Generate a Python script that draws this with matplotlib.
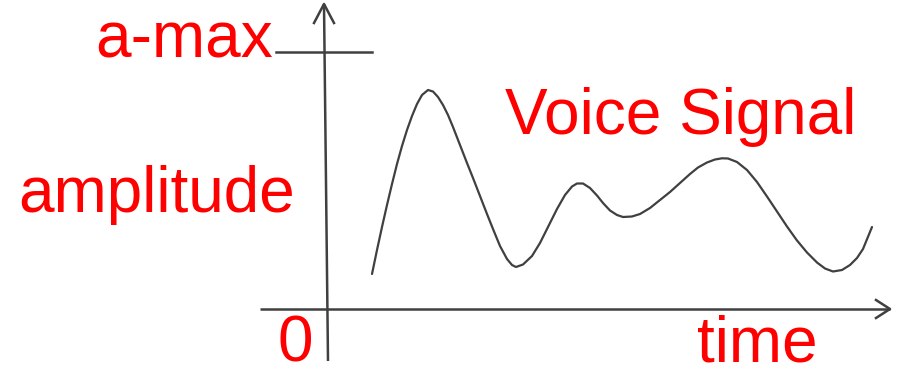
import matplotlib
matplotlib.use("Agg")
import matplotlib.pyplot as plt

# sketched voice waveform, time vs amplitude (origin at the axis crossing)
time = [44, 49, 54, 59, 64, 69, 74, 79, 84, 89, 94, 100, 105, 110, 115, 120,
        125, 132, 139, 145, 152, 159, 165, 172, 179, 184, 188, 195, 204, 212,
        220, 229, 237, 244, 249, 255, 262, 269, 275, 282, 289, 295, 304, 312,
        322, 332, 342, 352, 362, 370, 379, 387, 394, 400, 409, 419, 429, 439,
        449, 459, 469, 479, 489, 497, 505, 514, 522, 529, 535, 544]
amplitude = [35, 59, 82, 104, 125, 145, 163, 179, 193, 205, 214, 219, 217.5,
             212, 204, 194, 182, 164, 146, 131, 113, 95, 80, 63, 50, 44, 42,
             44.5, 53, 66, 82, 100, 114, 122.5, 125.5, 125.5, 121, 113.5, 106,
             98.5, 94, 92, 92.5, 95, 101, 109, 117, 126, 135, 141.5, 146.5,
             149.5, 150.7, 150.5, 147, 139, 127, 112.5, 97.5, 82.5, 68.5, 56.5,
             46.5, 40.5, 37.5, 39, 44, 51, 60, 82]

a_max = 257

line_col = "#404040"
text_col = "#ff0000"
font = {"family": "Liberation Sans", "size": 46, "color": text_col}

fig = plt.figure(figsize=(9.04, 3.68), dpi=100)
ax = fig.add_axes([0, 0, 1, 1])
ax.set_xlim(-328, 576)
ax.set_ylim(-59, 309)
ax.axis("off")

# axes with arrow heads
ax.plot([-4, 0], [305, -52], color=line_col, lw=1.8, solid_capstyle="butt")
ax.plot([-14, -4, 6], [286, 305, 286], color=line_col, lw=1.8)
ax.plot([-68, 562], [0, 0], color=line_col, lw=1.8, solid_capstyle="butt")
ax.plot([548, 562, 548], [9, 0, -9], color=line_col, lw=1.8)

# a-max marker
ax.plot([-52, 44], [a_max, a_max], color=line_col, lw=1.8)

# signal
ax.plot(time, amplitude, color=line_col, lw=1.6,
        solid_joinstyle="round", solid_capstyle="round")

ax.text(-233, 251, "a-max", ha="left", va="baseline", fontdict=font)
ax.text(-310, 97, "amplitude", ha="left", va="baseline", fontdict=font)
ax.text(177, 175, "Voice Signal", ha="left", va="baseline", fontdict=font)
ax.text(-50, -52, "0", ha="left", va="baseline", fontdict=font)
ax.text(369, -52, "time", ha="left", va="baseline", fontdict=font)

fig.savefig("out.png", dpi=100)
